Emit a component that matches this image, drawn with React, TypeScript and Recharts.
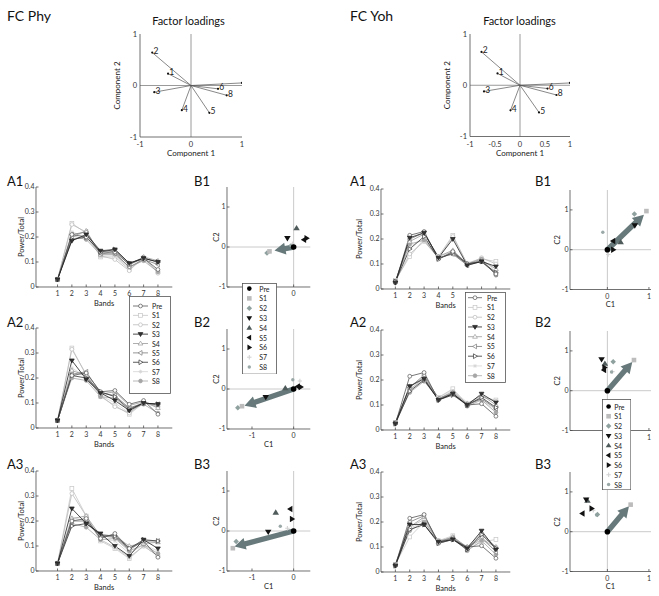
import React from 'react';
import { LineChart, Line, XAxis, YAxis, ScatterChart, Scatter, ReferenceLine } from 'recharts';

const FONT = 'Lato, "Open Sans", "DejaVu Sans", sans-serif';

// ---------- categories / ticks ----------
const SESSIONS = ['Pre', 'S1', 'S2', 'S3', 'S4', 'S5', 'S6', 'S7', 'S8'];
const BANDS = [1, 2, 3, 4, 5, 6, 7, 8];
const POWER_TICKS = [0, 0.1, 0.2, 0.3, 0.4];
const POWER_MINOR = [0, 0.05, 0.1, 0.15, 0.2, 0.25, 0.3, 0.35, 0.4];
const C2_TICKS = [-1, 0, 1];
const PHY_C1_TICKS = [-1, 0];
const YOH_C1_TICKS = [0, 1];
const PHY_LOAD_X_TICKS = [-1, 0, 1];
const YOH_LOAD_X_TICKS = [-1, -0.5, 0, 0.5, 1];
const LOAD_Y_TICKS = [-1, 0, 1];

// ---------- factor loadings ----------
const LOAD_NAMES = ['1', '2', '3', '4', '5', '6', '7', '8'];
const PHY_LOAD_C1 = [-0.45, -0.76, -0.72, -0.18, 0.36, 0.53, 1.0, 0.7];
const PHY_LOAD_C2 = [0.23, 0.64, -0.13, -0.48, -0.53, -0.065, 0.05, -0.19];
const YOH_LOAD_C1 = [-0.45, -0.77, -0.72, -0.19, 0.38, 0.55, 1.0, 0.73];
const YOH_LOAD_C2 = [0.23, 0.65, -0.12, -0.49, -0.53, -0.065, 0.045, -0.19];

// ---------- power / total (rows: Pre, S1..S8; columns: bands 1..8) ----------
const PHY_A1 = [
  [0.03, 0.21, 0.2, 0.14, 0.14, 0.09, 0.115, 0.07],
  [0.03, 0.255, 0.215, 0.12, 0.12, 0.07, 0.115, 0.06],
  [0.03, 0.25, 0.22, 0.125, 0.11, 0.065, 0.12, 0.055],
  [0.03, 0.185, 0.21, 0.145, 0.15, 0.095, 0.115, 0.1],
  [0.03, 0.2, 0.225, 0.13, 0.145, 0.09, 0.12, 0.105],
  [0.03, 0.21, 0.22, 0.135, 0.135, 0.08, 0.11, 0.09],
  [0.03, 0.19, 0.2, 0.14, 0.15, 0.095, 0.115, 0.1],
  [0.03, 0.22, 0.2, 0.125, 0.125, 0.075, 0.11, 0.065],
  [0.03, 0.205, 0.19, 0.13, 0.13, 0.08, 0.105, 0.06],
];
const PHY_A2 = [
  [0.03, 0.21, 0.22, 0.145, 0.15, 0.095, 0.11, 0.055],
  [0.03, 0.32, 0.21, 0.125, 0.09, 0.055, 0.1, 0.09],
  [0.03, 0.315, 0.215, 0.13, 0.085, 0.06, 0.105, 0.085],
  [0.03, 0.27, 0.195, 0.14, 0.11, 0.07, 0.1, 0.095],
  [0.03, 0.23, 0.21, 0.135, 0.145, 0.09, 0.105, 0.08],
  [0.03, 0.215, 0.225, 0.14, 0.13, 0.08, 0.1, 0.095],
  [0.03, 0.21, 0.2, 0.145, 0.125, 0.075, 0.1, 0.095],
  [0.03, 0.24, 0.205, 0.13, 0.1, 0.06, 0.1, 0.085],
  [0.03, 0.2, 0.19, 0.125, 0.12, 0.07, 0.095, 0.06],
];
const PHY_A3 = [
  [0.03, 0.2, 0.21, 0.13, 0.15, 0.09, 0.12, 0.055],
  [0.03, 0.33, 0.22, 0.12, 0.09, 0.05, 0.1, 0.06],
  [0.03, 0.31, 0.22, 0.125, 0.095, 0.055, 0.1, 0.06],
  [0.03, 0.25, 0.19, 0.15, 0.1, 0.06, 0.125, 0.09],
  [0.03, 0.21, 0.22, 0.14, 0.14, 0.1, 0.11, 0.115],
  [0.03, 0.2, 0.2, 0.14, 0.135, 0.085, 0.12, 0.12],
  [0.03, 0.18, 0.19, 0.145, 0.14, 0.09, 0.125, 0.12],
  [0.03, 0.215, 0.2, 0.13, 0.12, 0.07, 0.105, 0.08],
  [0.03, 0.19, 0.175, 0.125, 0.13, 0.08, 0.105, 0.07],
];
const YOH_A1 = [
  [0.025, 0.215, 0.23, 0.12, 0.15, 0.1, 0.11, 0.06],
  [0.035, 0.13, 0.2, 0.13, 0.215, 0.1, 0.12, 0.11],
  [0.03, 0.14, 0.19, 0.125, 0.21, 0.1, 0.125, 0.1],
  [0.025, 0.205, 0.225, 0.125, 0.2, 0.095, 0.11, 0.09],
  [0.03, 0.19, 0.22, 0.13, 0.155, 0.1, 0.115, 0.08],
  [0.03, 0.2, 0.225, 0.125, 0.14, 0.095, 0.11, 0.06],
  [0.03, 0.16, 0.21, 0.12, 0.145, 0.1, 0.11, 0.065],
  [0.035, 0.17, 0.2, 0.13, 0.15, 0.105, 0.12, 0.07],
  [0.03, 0.18, 0.195, 0.125, 0.14, 0.1, 0.12, 0.055],
];
const YOH_A2 = [
  [0.025, 0.215, 0.23, 0.12, 0.145, 0.1, 0.105, 0.055],
  [0.03, 0.16, 0.21, 0.13, 0.165, 0.1, 0.13, 0.12],
  [0.03, 0.165, 0.2, 0.125, 0.155, 0.105, 0.135, 0.115],
  [0.025, 0.175, 0.205, 0.12, 0.145, 0.1, 0.145, 0.11],
  [0.03, 0.175, 0.21, 0.125, 0.15, 0.105, 0.14, 0.1],
  [0.03, 0.17, 0.22, 0.125, 0.145, 0.1, 0.125, 0.085],
  [0.025, 0.155, 0.2, 0.12, 0.14, 0.1, 0.13, 0.09],
  [0.03, 0.16, 0.2, 0.13, 0.16, 0.11, 0.12, 0.08],
  [0.03, 0.15, 0.195, 0.125, 0.15, 0.095, 0.12, 0.07],
];
const YOH_A3 = [
  [0.025, 0.215, 0.23, 0.115, 0.13, 0.1, 0.105, 0.055],
  [0.03, 0.14, 0.2, 0.125, 0.145, 0.09, 0.12, 0.13],
  [0.03, 0.18, 0.21, 0.12, 0.14, 0.095, 0.13, 0.1],
  [0.025, 0.19, 0.19, 0.12, 0.13, 0.095, 0.165, 0.09],
  [0.03, 0.18, 0.22, 0.12, 0.14, 0.1, 0.155, 0.1],
  [0.03, 0.2, 0.225, 0.12, 0.135, 0.095, 0.14, 0.08],
  [0.025, 0.17, 0.19, 0.115, 0.13, 0.09, 0.15, 0.095],
  [0.03, 0.175, 0.2, 0.125, 0.14, 0.1, 0.13, 0.085],
  [0.03, 0.165, 0.2, 0.125, 0.135, 0.085, 0.125, 0.07],
];

// ---------- component scores (C1, C2) per session: Pre, S1..S8 ----------
const PHY_B1 = [[0, 0], [-0.58, -0.11], [-0.64, -0.15], [-0.15, 0.22], [0.07, 0.47], [0.25, 0.18], [0.31, 0.22], [-0.03, 0.08], [-0.07, 0.04]];
const PHY_B1_ARROW = [-0.46, -0.09];
const PHY_B2 = [[0, 0], [-1.24, -0.43], [-1.34, -0.47], [-0.67, -0.2], [-0.2, 0.02], [0.1, 0.06], [0.17, 0.05], [0.15, 0.2], [-0.02, 0.23]];
const PHY_B2_ARROW = [-1.18, -0.42];
const PHY_B3 = [[0, 0], [-1.46, -0.43], [-1.38, -0.26], [-0.61, -0.02], [-0.43, 0.46], [-0.08, 0.55], [-0.04, 0.3], [-0.15, 0.07], [-0.32, 0.12]];
const PHY_B3_ARROW = [-1.42, -0.39];
const YOH_B1 = [[0, 0], [0.94, 0.97], [0.65, 0.9], [0.66, 0.61], [0.32, 0.19], [0.14, 0.22], [0.14, 0.0], [0.02, -0.12], [-0.11, 0.44]];
const YOH_B1_ARROW = [0.88, 0.88];
const YOH_B2 = [[0, 0], [0.64, 0.77], [0.14, 0.73], [-0.14, 0.79], [-0.06, 0.68], [-0.08, 0.52], [-0.07, 0.58], [0.12, 0.48], [0.1, 0.47]];
const YOH_B2_ARROW = [0.6, 0.72];
const YOH_B3 = [[0, 0], [0.56, 0.68], [-0.24, 0.43], [-0.51, 0.81], [-0.48, 0.78], [-0.6, 0.46], [-0.38, 0.58], [-0.34, 0.54], [-0.26, 0.42]];
const YOH_B3_ARROW = [0.52, 0.64];

// ---------- styles ----------
const AX = '#4d4d4d';
const TICK = { fontSize: 7, fill: '#333', fontFamily: FONT };
const LBL = { fontSize: 7.5, fill: '#222', fontFamily: FONT };
const ARROW = '#67797a';

const LINE_STYLE: Record<string, { stroke: string; kind: string; fill: string }> = {
  Pre: { stroke: '#555', kind: 'circle', fill: '#fff' },
  S1: { stroke: '#c6c6c6', kind: 'square', fill: '#fff' },
  S2: { stroke: '#bababa', kind: 'circle', fill: '#fff' },
  S3: { stroke: '#1e1e1e', kind: 'tdown', fill: '#333' },
  S4: { stroke: '#999', kind: 'tup', fill: '#fff' },
  S5: { stroke: '#7a7a7a', kind: 'tleft', fill: '#fff' },
  S6: { stroke: '#333', kind: 'tright', fill: '#fff' },
  S7: { stroke: '#d6d6d6', kind: 'star', fill: '#d6d6d6' },
  S8: { stroke: '#a6a6a6', kind: 'circle', fill: '#a6a6a6' },
};
const DRAW_ORDER = ['S7', 'S1', 'S2', 'S8', 'S4', 'S5', 'S6', 'Pre', 'S3'];

const PT_STYLE: Record<string, { kind: string; fill: string; s: number }> = {
  Pre: { kind: 'circle', fill: '#000', s: 2.8 },
  S1: { kind: 'square', fill: '#bcbcbc', s: 2.3 },
  S2: { kind: 'diamond', fill: '#8fa19e', s: 2.2 },
  S3: { kind: 'tdown', fill: '#111', s: 2.6 },
  S4: { kind: 'tup', fill: '#4f5a5a', s: 2.6 },
  S5: { kind: 'tleft', fill: '#111', s: 2.6 },
  S6: { kind: 'tright', fill: '#111', s: 2.6 },
  S7: { kind: 'plus', fill: '#d2d2d2', s: 2.2 },
  S8: { kind: 'circle', fill: '#9aa9a7', s: 1.7 },
};
const PT_ORDER = ['S7', 'S8', 'S2', 'S1', 'S4', 'S3', 'S5', 'S6', 'Pre'];

function mark(kind: string, cx: number, cy: number, s: number, fill: string, stroke: string, sw: number, key?: any) {
  let el: any = null;
  const p = { fill, stroke, strokeWidth: sw };
  const t = s * 1.25;
  switch (kind) {
    case 'circle':
      el = <circle cx={cx} cy={cy} r={s} {...p} />;
      break;
    case 'square':
      el = <rect x={cx - s} y={cy - s} width={2 * s} height={2 * s} {...p} />;
      break;
    case 'diamond':
      el = <polygon points={`${cx},${cy - t} ${cx + t},${cy} ${cx},${cy + t} ${cx - t},${cy}`} {...p} />;
      break;
    case 'tdown':
      el = <polygon points={`${cx - t},${cy - s * 0.8} ${cx + t},${cy - s * 0.8} ${cx},${cy + t}`} {...p} />;
      break;
    case 'tup':
      el = <polygon points={`${cx - t},${cy + s * 0.8} ${cx + t},${cy + s * 0.8} ${cx},${cy - t}`} {...p} />;
      break;
    case 'tleft':
      el = <polygon points={`${cx + s * 0.8},${cy - t} ${cx + s * 0.8},${cy + t} ${cx - t},${cy}`} {...p} />;
      break;
    case 'tright':
      el = <polygon points={`${cx - s * 0.8},${cy - t} ${cx - s * 0.8},${cy + t} ${cx + t},${cy}`} {...p} />;
      break;
    case 'plus':
      el = (
        <g stroke={fill} strokeWidth={1.1}>
          <line x1={cx - s} y1={cy} x2={cx + s} y2={cy} />
          <line x1={cx} y1={cy - s} x2={cx} y2={cy + s} />
        </g>
      );
      break;
    case 'star':
    default:
      el = (
        <g stroke={stroke} strokeWidth={0.8}>
          <line x1={cx - s} y1={cy} x2={cx + s} y2={cy} />
          <line x1={cx} y1={cy - s} x2={cx} y2={cy + s} />
          <line x1={cx - s * 0.7} y1={cy - s * 0.7} x2={cx + s * 0.7} y2={cy + s * 0.7} />
          <line x1={cx - s * 0.7} y1={cy + s * 0.7} x2={cx + s * 0.7} y2={cy - s * 0.7} />
        </g>
      );
  }
  return <g key={key}>{el}</g>;
}

function toRows(series: number[][]) {
  return BANDS.map((b, i) => {
    const r: any = { band: b };
    SESSIONS.forEach((s, k) => {
      r[s] = series[k][i];
    });
    return r;
  });
}

// tick labels that sit under a legend box in the figure are left blank
const hideFmt = (hidden: number[]) => (v: number) => (hidden.includes(v) ? '' : String(v));

const M = { top: 6, right: 12, left: 2, bottom: 2 };
function place(plotLeft: number, plotTop: number, plotW: number, plotH: number, yW: number, xH: number) {
  return {
    left: plotLeft - yW - M.left,
    top: plotTop - M.top,
    width: M.left + yW + plotW + M.right,
    height: M.top + plotH + xH + M.bottom,
    yW,
    xH,
  };
}

function APanel({ box, series, xDomain, hidden = [] }: any) {
  const rows = toRows(series);
  return (
    <div style={{ position: 'absolute', left: box.left, top: box.top }}>
      <LineChart width={box.width} height={box.height} data={rows} margin={M}>
        <XAxis dataKey="band" type="number" domain={xDomain} ticks={BANDS} interval={0} allowDataOverflow
          height={box.xH} tickSize={-2.5} tickMargin={7} tick={TICK} stroke={AX} strokeWidth={0.8}
          tickFormatter={hideFmt(hidden)}
          label={{ value: 'Bands', position: 'center', ...LBL }} />
        <YAxis type="number" domain={[0, 0.4]} ticks={POWER_TICKS} interval={0} allowDataOverflow
          width={box.yW} tickSize={-2.5} tickMargin={4} tick={TICK} stroke={AX} strokeWidth={0.8}
          label={{ value: 'Power/Total', position: 'center', angle: -90, ...LBL }} />
        <XAxis xAxisId="t" orientation="top" type="number" domain={xDomain} ticks={BANDS} interval={0}
          height={0} tick={false} tickSize={-2.5} stroke={AX} strokeWidth={0.8} />
        <YAxis yAxisId="r" orientation="right" type="number" domain={[0, 0.4]} ticks={POWER_MINOR} interval={0}
          width={0} tick={false} tickSize={-2.5} stroke={AX} strokeWidth={0.8} />
        {DRAW_ORDER.map((s) => {
          const st = LINE_STYLE[s];
          return (
            <Line key={s} dataKey={s} stroke={st.stroke} strokeWidth={0.8} isAnimationActive={false} activeDot={false}
              dot={(p: any) => mark(st.kind, p.cx, p.cy, 1.9, st.fill, st.stroke, 0.7, `${s}-${p.index}`)} />
          );
        })}
      </LineChart>
    </div>
  );
}

function arrowShape(props: any) {
  const { x1, y1, x2, y2 } = props;
  const dx = x2 - x1;
  const dy = y2 - y1;
  const len = Math.hypot(dx, dy) || 1;
  const ux = dx / len;
  const uy = dy / len;
  const px = -uy;
  const py = ux;
  const hl = 11;
  const hw = 6;
  const sw = 2.7;
  const bx = x2 - ux * hl;
  const by = y2 - uy * hl;
  const pts = [
    [x1 + px * sw, y1 + py * sw],
    [bx + px * sw, by + py * sw],
    [bx + px * hw, by + py * hw],
    [x2, y2],
    [bx - px * hw, by - py * hw],
    [bx - px * sw, by - py * sw],
    [x1 - px * sw, y1 - py * sw],
  ];
  return <polygon points={pts.map((q) => q.join(',')).join(' ')} fill={ARROW} stroke="none" />;
}

function BPanel({ box, pts, arrow, xDomain, xTicks, hidden = [], showC1 = true }: any) {
  const yDomain = [-1, 1.5];
  return (
    <div style={{ position: 'absolute', left: box.left, top: box.top }}>
      <ScatterChart width={box.width} height={box.height} margin={M}>
        <XAxis dataKey="x" type="number" domain={xDomain} ticks={xTicks} interval={0} allowDataOverflow
          height={box.xH} tickSize={-2.5} tickMargin={7} tick={TICK} stroke={AX} strokeWidth={0.8}
          tickFormatter={hideFmt(hidden)}
          label={showC1 ? { value: 'C1', position: 'center', ...LBL } : undefined} />
        <YAxis dataKey="y" type="number" domain={yDomain} ticks={C2_TICKS} interval={0} allowDataOverflow
          width={box.yW} tickSize={-2.5} tickMargin={4} tick={TICK} stroke={AX} strokeWidth={0.8}
          label={{ value: 'C2', position: 'center', angle: -90, ...LBL }} />
        <XAxis xAxisId="t" orientation="top" type="number" domain={xDomain} ticks={xTicks} height={0}
          tick={false} tickLine={false} stroke={AX} strokeWidth={0.8} />
        <YAxis yAxisId="r" orientation="right" type="number" domain={yDomain} ticks={C2_TICKS} width={0}
          tick={false} tickLine={false} stroke={AX} strokeWidth={0.8} />
        <ReferenceLine x={0} stroke="#bdbdbd" strokeWidth={0.8} />
        <ReferenceLine y={0} stroke="#bdbdbd" strokeWidth={0.8} />
        <ReferenceLine segment={[{ x: 0, y: 0 }, { x: arrow[0], y: arrow[1] }]} shape={arrowShape} />
        {PT_ORDER.map((s) => {
          const i = SESSIONS.indexOf(s);
          const st = PT_STYLE[s];
          return (
            <Scatter key={s} name={s} data={[{ x: pts[i][0], y: pts[i][1] }]} isAnimationActive={false}
              shape={(p: any) => mark(st.kind, p.cx, p.cy, st.s, st.fill, 'none', 0)} />
          );
        })}
      </ScatterChart>
    </div>
  );
}

function loadShape(p: any) {
  const { cx, cy, payload } = p;
  return (
    <g>
      <circle cx={cx} cy={cy} r={1.1} fill="#111" />
      <text x={cx + 1.2} y={cy + 1.5} fontSize={8.5} fill="#222" fontFamily={FONT}>{payload.name}</text>
    </g>
  );
}

function LoadPanel({ box, c1, c2, xTicks }: any) {
  const pts = LOAD_NAMES.map((n, i) => ({ name: n, x: c1[i], y: c2[i] }));
  return (
    <div style={{ position: 'absolute', left: box.left, top: box.top }}>
      <ScatterChart width={box.width} height={box.height} margin={M}>
        <XAxis dataKey="x" type="number" domain={[-1, 1]} ticks={xTicks} interval={0} allowDataOverflow
          height={box.xH} tickLine={false} tickSize={0} tickMargin={5} tick={{ ...TICK, fontSize: 7.5 }} stroke={AX} strokeWidth={0.8}
          label={{ value: 'Component 1', position: 'center', ...LBL, fontSize: 8 }} />
        <YAxis dataKey="y" type="number" domain={[-1, 1]} ticks={LOAD_Y_TICKS} interval={0} allowDataOverflow
          width={box.yW} tickLine={false} tickSize={0} tickMargin={3} tick={{ ...TICK, fontSize: 7.5 }} stroke={AX} strokeWidth={0.8}
          label={{ value: 'Component 2', position: 'center', angle: -90, ...LBL, fontSize: 8 }} />
        <XAxis xAxisId="t" orientation="top" type="number" domain={[-1, 1]} height={0} tick={false} tickLine={false} stroke={AX} strokeWidth={0.8} />
        <YAxis yAxisId="r" orientation="right" type="number" domain={[-1, 1]} width={0} tick={false} tickLine={false} stroke={AX} strokeWidth={0.8} />
        <ReferenceLine x={0} stroke="#808080" strokeWidth={0.8} />
        <ReferenceLine y={0} stroke="#808080" strokeWidth={0.8} />
        {pts.map((p) => (
          <ReferenceLine key={p.name} segment={[{ x: 0, y: 0 }, { x: p.x, y: p.y }]} stroke="#555" strokeWidth={0.7} />
        ))}
        <Scatter data={pts} isAnimationActive={false} shape={loadShape} />
      </ScatterChart>
    </div>
  );
}

function LegendBox({ x, y, w, h, row0, gap, lineX0, lineX1, markX, textX, kind }: any) {
  return (
    <svg style={{ position: 'absolute', left: x, top: y, zIndex: 5 }} width={w + 1} height={h + 1}>
      <rect x={0.5} y={0.5} width={w} height={h} fill="#fff" stroke="#555" strokeWidth={0.8} />
      {SESSIONS.map((s, i) => {
        const cy = row0 - y + i * gap;
        if (kind === 'line') {
          const st = LINE_STYLE[s];
          return (
            <g key={s}>
              <line x1={lineX0 - x} x2={lineX1 - x} y1={cy} y2={cy} stroke={st.stroke} strokeWidth={0.8} />
              {mark(st.kind, markX - x, cy, 1.9, st.fill, st.stroke, 0.7)}
              <text x={textX - x} y={cy} dominantBaseline="central" fontSize={7} fill="#222" fontFamily={FONT}>{s}</text>
            </g>
          );
        }
        const st = PT_STYLE[s];
        return (
          <g key={s}>
            {mark(st.kind, markX - x, cy, Math.min(st.s, 2.3), st.fill, 'none', 0)}
            <text x={textX - x} y={cy} dominantBaseline="central" fontSize={7} fill="#222" fontFamily={FONT}>{s}</text>
          </g>
        );
      })}
    </svg>
  );
}

const PANEL_LABELS = [
  { t: 'A1', x: 7, y: 185.5 }, { t: 'B1', x: 194, y: 185.5 },
  { t: 'A2', x: 7, y: 326.5 }, { t: 'B2', x: 194, y: 326.5 },
  { t: 'A3', x: 7, y: 469 }, { t: 'B3', x: 194, y: 469 },
  { t: 'A1', x: 350, y: 185.5 }, { t: 'B1', x: 535, y: 185.5 },
  { t: 'A2', x: 350, y: 326.5 }, { t: 'B2', x: 535, y: 326.5 },
  { t: 'A3', x: 350, y: 469 }, { t: 'B3', x: 535, y: 469 },
];

export default function App() {
  const lA = (top: number) => place(35.7, top, 136.3, 100, 30, 32);
  const rA = (top: number) => place(380.7, top, 129.3, 100, 43, 32);
  const lB = (top: number) => place(226.7, top, 83.3, 100, 22, 30);
  const rB = (top: number) => place(570, top, 81, 99.5, 26, 30);
  return (
    <div style={{ position: 'absolute', left: 0, top: 0, width: 659, height: 596, background: '#fff', fontFamily: FONT, overflow: 'hidden' }}>
      <LoadPanel box={place(139.5, 33.5, 102, 103, 45, 33)} c1={PHY_LOAD_C1} c2={PHY_LOAD_C2} xTicks={PHY_LOAD_X_TICKS} />
      <LoadPanel box={place(469.5, 33.5, 100, 102.5, 45, 33)} c1={YOH_LOAD_C1} c2={YOH_LOAD_C2} xTicks={YOH_LOAD_X_TICKS} />

      <APanel box={lA(187.3)} series={PHY_A1} xDomain={[-0.5, 9]} />
      <APanel box={lA(328.3)} series={PHY_A2} xDomain={[-0.5, 9]} />
      <APanel box={lA(470.7)} series={PHY_A3} xDomain={[-0.5, 9]} />
      <APanel box={rA(189)} series={YOH_A1} xDomain={[0, 9]} hidden={[6, 7, 8]} />
      <APanel box={rA(330)} series={YOH_A2} xDomain={[0, 9]} />
      <APanel box={rA(471.7)} series={YOH_A3} xDomain={[0, 9]} />

      <BPanel box={lB(186.7)} pts={PHY_B1} arrow={PHY_B1_ARROW} xDomain={[-1.6, 0.4]} xTicks={PHY_C1_TICKS} hidden={[-1]} showC1={false} />
      <BPanel box={lB(329.3)} pts={PHY_B2} arrow={PHY_B2_ARROW} xDomain={[-1.6, 0.4]} xTicks={PHY_C1_TICKS} />
      <BPanel box={lB(470.7)} pts={PHY_B3} arrow={PHY_B3_ARROW} xDomain={[-1.6, 0.4]} xTicks={PHY_C1_TICKS} />
      <BPanel box={rB(190)} pts={YOH_B1} arrow={YOH_B1_ARROW} xDomain={[-0.9, 1.05]} xTicks={YOH_C1_TICKS} />
      <BPanel box={rB(330.5)} pts={YOH_B2} arrow={YOH_B2_ARROW} xDomain={[-0.9, 1.05]} xTicks={YOH_C1_TICKS} hidden={[0]} showC1={false} />
      <BPanel box={rB(471.7)} pts={YOH_B3} arrow={YOH_B3_ARROW} xDomain={[-0.9, 1.05]} xTicks={YOH_C1_TICKS} />

      <svg style={{ position: 'absolute', left: 0, top: 0, pointerEvents: 'none' }} width={659} height={596}>
        <text x={7} y={20.5} fontSize={14} fill="#111" fontFamily={FONT}>FC Phy</text>
        <text x={350} y={20.5} fontSize={14} fill="#111" fontFamily={FONT}>FC Yoh</text>
        <text x={188.5} y={25} fontSize={11} fill="#111" textAnchor="middle" fontFamily={FONT}>Factor loadings</text>
        <text x={519.5} y={25} fontSize={11} fill="#111" textAnchor="middle" fontFamily={FONT}>Factor loadings</text>
        {PANEL_LABELS.map((l, i) => (
          <text key={i} x={l.x} y={l.y} fontSize={13} fill="#111" fontFamily={FONT}>{l.t}</text>
        ))}
      </svg>

      <LegendBox kind="line" x={129} y={296} w={41} h={97} row0={306} gap={9.375} lineX0={133} lineX1={148} markX={140.5} textX={152} />
      <LegendBox kind="line" x={465} y={292} w={40} h={90} row0={297.7} gap={9.75} lineX0={468} lineX1={482} markX={475} textX={487} />
      <LegendBox kind="pt" x={241.7} y={282.7} w={34} h={90.6} row0={288.3} gap={9.8} markX={249} textX={259} />
      <LegendBox kind="pt" x={601.7} y={399} w={28.3} h={90.3} row0={406.5} gap={9.75} markX={608.3} textX={614} />
    </div>
  );
}
